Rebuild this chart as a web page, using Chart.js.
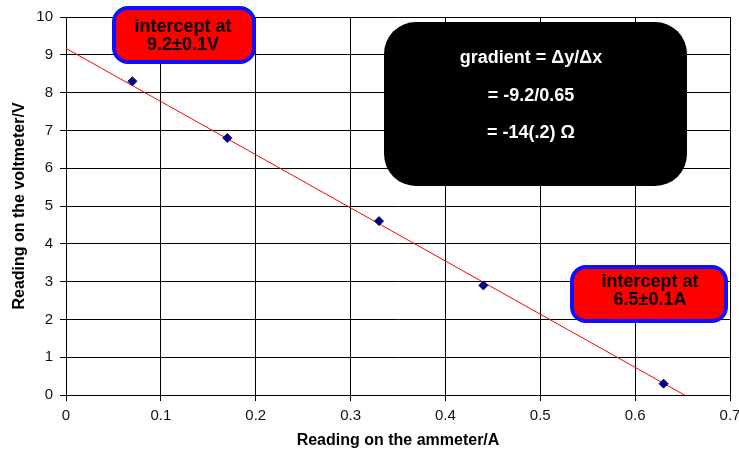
<!DOCTYPE html>
<html>
<head>
<meta charset="utf-8">
<script src="https://cdn.jsdelivr.net/npm/chart.js@4/dist/chart.umd.min.js"></script>
<style>
  html, body { margin: 0; padding: 0; background: #fff; }
  #wrap { width: 739px; height: 459px; position: relative; }
</style>
</head>
<body>
<div id="wrap"><canvas id="c" width="739" height="459"></canvas></div>
<script>
// ---- data ----
const currentA = [0.07, 0.17, 0.33, 0.44, 0.63];
const voltageV = [8.3, 6.8, 4.6, 2.9, 0.3];
const fitLineX = [0, 0.652];
const fitLineY = [9.17, 0];
const xTicks = [0, 0.1, 0.2, 0.3, 0.4, 0.5, 0.6, 0.7];
const yTicks = [0, 1, 2, 3, 4, 5, 6, 7, 8, 9, 10];
const xTitle = 'Reading on the ammeter/A';
const yTitle = 'Reading on the voltmeter/V';
const intercept1 = ['intercept at', '9.2\u00B10.1V'];
const intercept2 = ['intercept at', '6.5\u00B10.1A'];
const gradientText = ['gradient = \u0394y/\u0394x', '= -9.2/0.65', '= -14(.2) \u03A9'];

const pts = currentA.map((x, i) => ({ x: x, y: voltageV[i] }));
const fit = fitLineX.map((x, i) => ({ x: x, y: fitLineY[i] }));

function rrect(ctx, x, y, w, h, r) {
  ctx.beginPath();
  ctx.moveTo(x + r, y);
  ctx.lineTo(x + w - r, y);
  ctx.arcTo(x + w, y, x + w, y + r, r);
  ctx.lineTo(x + w, y + h - r);
  ctx.arcTo(x + w, y + h, x + w - r, y + h, r);
  ctx.lineTo(x + r, y + h);
  ctx.arcTo(x, y + h, x, y + h - r, r);
  ctx.lineTo(x, y + r);
  ctx.arcTo(x, y, x + r, y, r);
  ctx.closePath();
}

const boxes = {
  id: 'boxes',
  afterDraw(chart) {
    const ctx = chart.ctx;
    ctx.save();
    function redBox(x, y, w, h, lines, cx, ys) {
      rrect(ctx, x, y, w, h, 14);
      ctx.fillStyle = '#ff0000';
      ctx.fill();
      ctx.lineWidth = 4;
      ctx.strokeStyle = '#1010ff';
      ctx.stroke();
      ctx.fillStyle = '#000';
      ctx.font = 'bold 18px "Liberation Sans", Arial, sans-serif';
      ctx.textAlign = 'center';
      ctx.textBaseline = 'middle';
      lines.forEach((t, i) => ctx.fillText(t, cx, ys[i]));
    }
    redBox(114, 8, 140, 54, intercept1, 183, [27, 45]);
    redBox(572, 267, 154, 54, intercept2, 650, [282, 300]);
    rrect(ctx, 384, 22, 303, 164, 32);
    ctx.fillStyle = '#000';
    ctx.fill();
    ctx.fillStyle = '#fff';
    ctx.font = 'bold 18px "Liberation Sans", Arial, sans-serif';
    ctx.textAlign = 'center';
    ctx.textBaseline = 'middle';
    [58, 96, 133].forEach((y, i) => ctx.fillText(gradientText[i], 531, y));
    ctx.restore();
  }
};

new Chart(document.getElementById('c'), {
  type: 'scatter',
  data: {
    datasets: [
      {
        label: 'readings',
        data: pts,
        order: 0,
        pointStyle: 'rectRot',
        pointRadius: 4.5,
        pointBackgroundColor: '#000080',
        pointBorderColor: '#000080',
        showLine: false
      },
      {
        label: 'fit',
        data: fit,
        order: 1,
        showLine: true,
        borderColor: '#ff0000',
        borderWidth: 1,
        pointRadius: 0,
        fill: false
      }
    ]
  },
  options: {
    responsive: false,
    animation: false,
    layout: { padding: { top: 17, right: 9, left: 0, bottom: 0 } },
    plugins: { legend: { display: false }, tooltip: { enabled: false } },
    scales: {
      x: {
        type: 'linear',
        min: 0, max: 0.7,
        afterBuildTicks(s) { s.ticks = xTicks.map(v => ({ value: v })); },
        afterFit(s) { s.height = 64; s.paddingRight = 0; s.paddingLeft = 0; },
        ticks: {
          color: '#111',
          font: { family: '"Liberation Sans", Arial, sans-serif', size: 15 },
          padding: 6,
          maxRotation: 0,
          callback: v => String(v)
        },
        grid: { color: '#000', lineWidth: 1, tickLength: 6, drawTicks: true },
        border: { color: '#000', width: 1 },
        title: {
          display: true,
          text: xTitle,
          color: '#000',
          font: { family: '"Liberation Sans", Arial, sans-serif', size: 16, weight: 'bold' },
          padding: { top: 0, bottom: 9 }
        }
      },
      y: {
        type: 'linear',
        min: 0, max: 10,
        afterBuildTicks(s) { s.ticks = yTicks.map(v => ({ value: v })); },
        afterFit(s) { s.width = 66; },
        ticks: {
          color: '#111',
          font: { family: '"Liberation Sans", Arial, sans-serif', size: 15 },
          padding: 7
        },
        grid: { color: '#000', lineWidth: 1, tickLength: 6, drawTicks: true },
        border: { color: '#000', width: 1 },
        title: {
          display: true,
          text: yTitle,
          color: '#000',
          font: { family: '"Liberation Sans", Arial, sans-serif', size: 16, weight: 'bold' },
          padding: { top: 10, bottom: 0 }
        }
      }
    }
  },
  plugins: [boxes]
});
</script>
</body>
</html>
